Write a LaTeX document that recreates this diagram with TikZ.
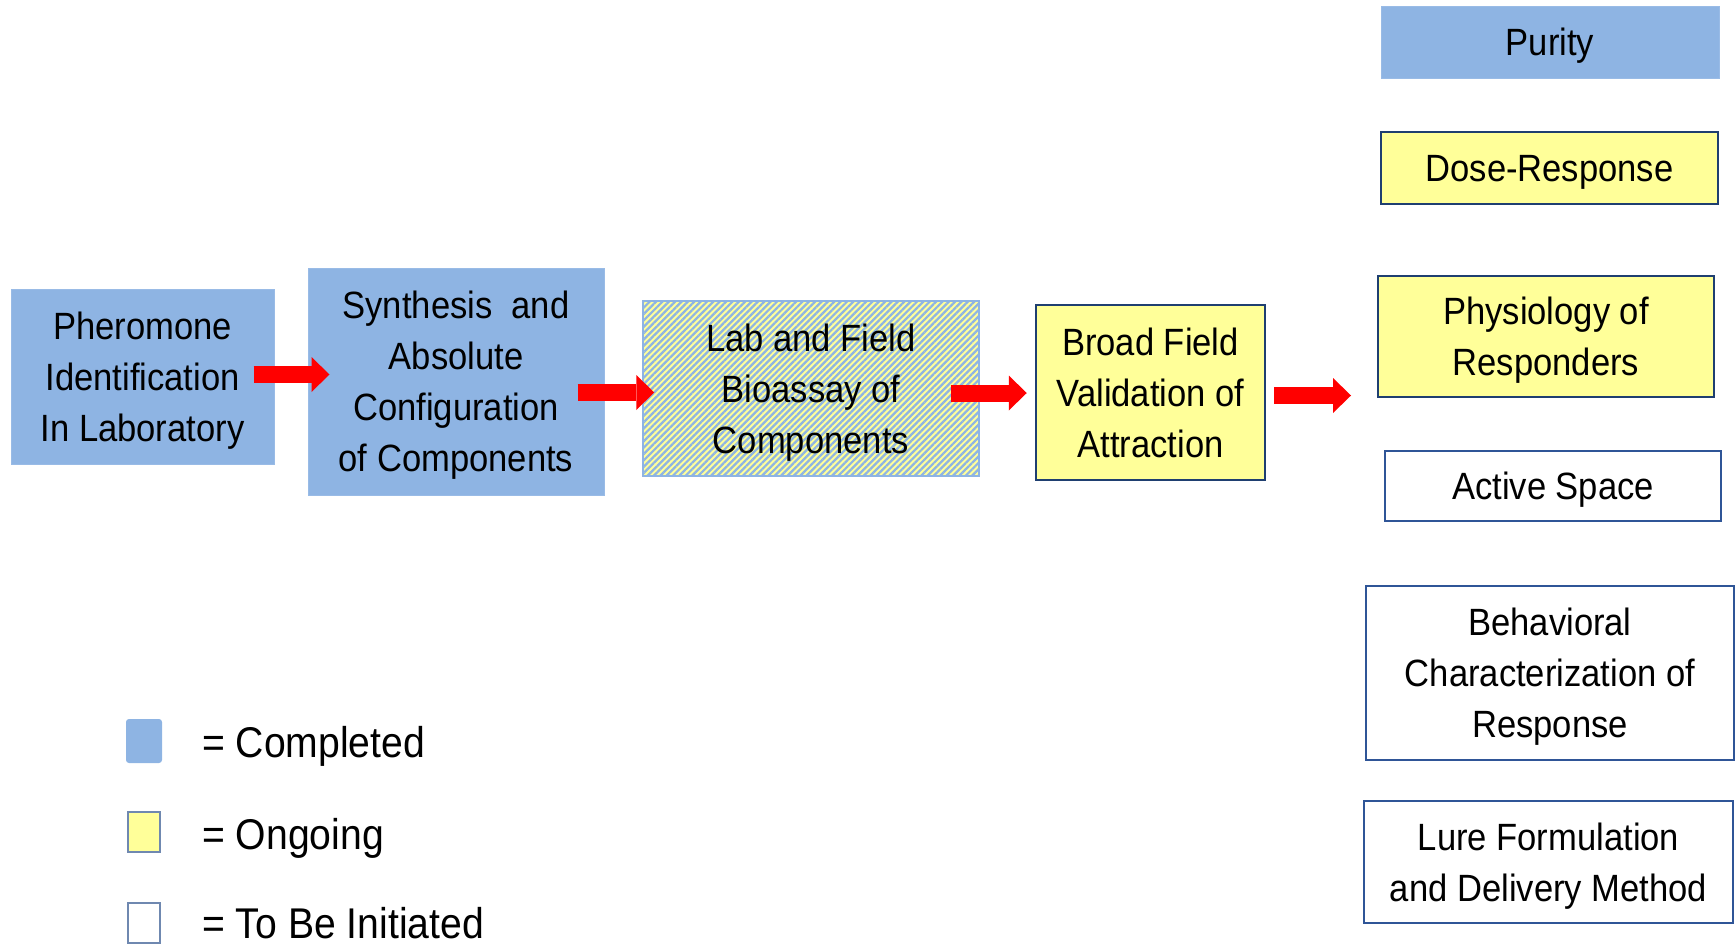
\documentclass[tikz,border=0pt]{standalone}
\usepackage{fontspec}
\setmainfont{Liberation Sans}[FakeStretch=0.91]
\usetikzlibrary{arrows.meta,patterns.meta}
\definecolor{cblue}{HTML}{8EB4E3}
\definecolor{cyellow}{HTML}{FFFF99}
\definecolor{cnavy}{HTML}{1F3F70}
\definecolor{cframe}{HTML}{2F5597}
\definecolor{cgray}{HTML}{6F88B0}
\tikzset{
  base/.style={inner sep=0pt, align=center, text depth=0pt, font=\fontsize{38}{51}\selectfont},
  donebox/.style={base, fill=cblue, draw=cblue!90!white, line width=1pt},
  ongoingbox/.style={base, fill=cyellow, draw=cnavy, line width=2.5pt},
  newbox/.style={base, fill=white, draw=cframe, line width=2pt},
  hatchbox/.style={base, fill=cyellow, postaction={pattern={Lines[angle=45,distance=4.5pt,line width=2.25pt]}, pattern color=cblue}, draw=cblue, line width=1.5pt},
  bigarrow/.style={draw=red, line width=17pt, -{Triangle[length=18pt,width=35pt,line width=0pt]}},
  legtext/.style={inner sep=0pt, anchor=base west, text depth=0pt, font=\fontsize{43}{50}\selectfont}
}
\begin{document}
\begin{tikzpicture}[x=1pt,y=-1pt]
\useasboundingbox (0,0) rectangle (1735,945);
% main chain
\node[donebox, minimum width=263pt, minimum height=175pt] (phero) at (142.5,376.5) {Pheromone\\Identification\\In Laboratory};
\node[donebox, minimum width=296pt, minimum height=227pt] (synth) at (456,381.5) {Synthesis\ \ and\\Absolute\\Configuration\\of Components};
\node[hatchbox, minimum width=336pt, minimum height=175pt] (lab) at (811,388.5) {Lab and Field\\Bioassay of\\Components};
\node[ongoingbox, minimum width=229pt, minimum height=175pt] (broad) at (1150.5,392.5) {Broad Field\\Validation of\\Attraction};
% right column
\node[donebox, minimum width=338pt, minimum height=72pt] (purity) at (1550,42) {Purity};
\node[ongoingbox, minimum width=337pt, minimum height=72pt] (dose) at (1549.5,168) {Dose-Response};
\node[ongoingbox, minimum width=336pt, minimum height=121pt] (physio) at (1546,336.5) {Physiology of\\Responders};
\node[newbox, minimum width=336pt, minimum height=70pt] (active) at (1553,486) {Active Space};
\node[newbox, minimum width=368pt, minimum height=174pt] (behav) at (1550,673) {Behavioral\\Characterization of\\Response};
\node[newbox, minimum width=369pt, minimum height=122pt] (lure) at (1548.5,862) {Lure Formulation\\and Delivery Method};
% arrows
\coordinate (tipend) at (1351,395.5);
\draw[bigarrow] ([shift={(-21,-2)}]phero.east) -- ([shift={(22,-7)}]synth.west);
\draw[bigarrow] ([shift={(-27,11)}]synth.east) -- ([shift={(12,4)}]lab.west);
\draw[bigarrow] ([shift={(-29,4.5)}]lab.east) -- ([shift={(-8,0.5)}]broad.west);
\draw[bigarrow] ([shift={(8,3)}]broad.east) -- (tipend);
% legend
\node[fill=cblue, rounded corners=3pt, minimum width=36pt, minimum height=44pt, inner sep=0pt] (lgdone) at (144,741) {};
\node[fill=cyellow, draw=cgray, line width=1.2pt, minimum width=32pt, minimum height=40pt, inner sep=0pt] (lgongo) at (144,832) {};
\node[fill=white, draw=cgray, line width=1.2pt, minimum width=32pt, minimum height=40pt, inner sep=0pt] (lgnew) at (144,923) {};
\node[legtext] (tdone) at (202,757) {= Completed};
\node[legtext] (tongo) at (202,849) {= Ongoing};
\node[legtext] (tnew) at (202,938) {= To Be Initiated};
\end{tikzpicture}
\end{document}
